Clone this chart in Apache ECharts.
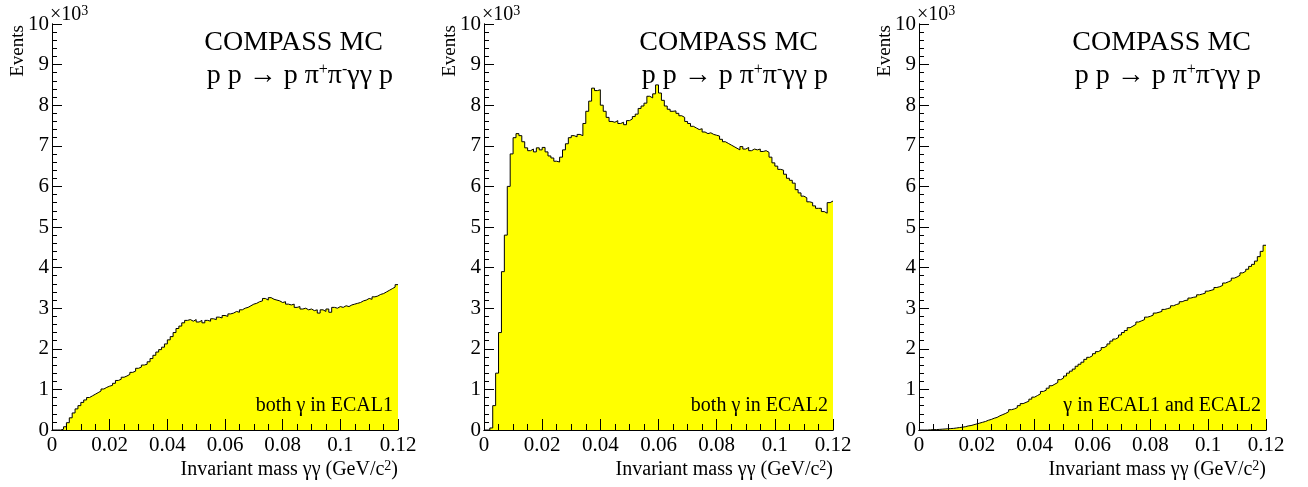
<!DOCTYPE html>
<html>
<head>
<meta charset="utf-8">
<script src="https://cdn.jsdelivr.net/npm/echarts@6/dist/echarts.min.js"></script>
<style>
html, body { margin: 0; padding: 0; background: #fff; }
#main { width: 1308px; height: 487px; }
</style>
</head>
<body>
<div id="main"></div>
<script>
// bin width of the histograms (GeV/c^2), bins start at 0
const binWidth = 0.001;
const xTicks = [0, 0.02, 0.04, 0.06, 0.08, 0.1, 0.12];
const yTicks = [0, 1, 2, 3, 4, 5, 6, 7, 8, 9, 10];

// events per bin, in units of 10^3
const ecal1 = [0,0,0,0.02,0.08,0.18,0.30,0.42,0.52,0.60,
	0.68,0.74,0.80,0.84,0.88,0.92,0.96,1.01,1.05,1.08,
	1.10,1.15,1.22,1.25,1.30,1.33,1.37,1.42,1.45,1.52,
	1.55,1.60,1.62,1.68,1.76,1.84,1.92,1.98,2.04,2.12,
	2.22,2.30,2.40,2.50,2.56,2.64,2.70,2.72,2.68,2.72,
	2.66,2.70,2.64,2.70,2.68,2.74,2.72,2.78,2.76,2.82,
	2.80,2.86,2.88,2.92,2.90,2.96,3.00,3.02,3.06,3.10,
	3.12,3.16,3.18,3.24,3.20,3.26,3.22,3.20,3.18,3.14,
	3.16,3.10,3.08,3.10,3.02,3.04,2.98,3.00,2.96,2.98,
	2.94,2.96,2.88,2.96,2.92,2.98,2.90,3.02,3.00,3.04,
	3.02,3.06,3.04,3.08,3.10,3.12,3.14,3.18,3.20,3.24,
	3.22,3.28,3.30,3.34,3.36,3.40,3.44,3.48,3.52,3.58];

const ecal2 = [0,0,0.05,0.6,1.4,2.4,3.9,4.8,6.0,6.8,
	7.20,7.30,7.25,7.10,6.95,6.88,6.92,6.85,6.95,6.90,
	6.96,6.85,6.75,6.70,6.62,6.60,6.72,6.90,7.05,7.20,
	7.25,7.22,7.28,7.25,7.55,7.85,8.10,8.42,8.36,8.38,
	8.00,7.85,7.70,7.60,7.58,7.62,7.55,7.58,7.52,7.62,
	7.66,7.72,7.78,7.92,7.98,8.05,8.22,8.18,8.28,8.50,
	8.30,8.12,7.98,7.90,7.85,7.86,7.80,7.74,7.70,7.60,
	7.55,7.48,7.44,7.40,7.42,7.34,7.30,7.32,7.28,7.26,
	7.24,7.16,7.10,7.06,7.02,6.98,6.94,6.90,6.98,6.92,
	6.96,6.88,6.92,6.90,6.92,6.86,6.88,6.84,6.72,6.58,
	6.50,6.42,6.40,6.30,6.20,6.15,6.08,5.92,5.84,5.76,
	5.72,5.62,5.60,5.52,5.46,5.46,5.38,5.34,5.60,5.64];

const ecal12 = [0,0,0,0.005,0.01,0.01,0.015,0.02,0.025,0.03,
	0.035,0.04,0.05,0.06,0.07,0.08,0.10,0.11,0.13,0.15,
	0.17,0.19,0.21,0.24,0.26,0.29,0.31,0.35,0.38,0.41,
	0.45,0.50,0.52,0.55,0.60,0.65,0.68,0.71,0.76,0.81,
	0.85,0.89,0.95,0.98,1.03,1.09,1.13,1.17,1.24,1.28,
	1.33,1.40,1.45,1.50,1.57,1.62,1.67,1.74,1.79,1.83,
	1.88,1.93,1.97,2.03,2.07,2.12,2.19,2.24,2.28,2.34,
	2.40,2.45,2.52,2.56,2.60,2.66,2.69,2.72,2.78,2.80,
	2.83,2.88,2.90,2.92,2.97,2.99,3.01,3.06,3.09,3.11,
	3.16,3.19,3.20,3.25,3.27,3.28,3.33,3.35,3.37,3.42,
	3.44,3.46,3.51,3.53,3.56,3.62,3.65,3.68,3.74,3.77,
	3.81,3.87,3.91,3.96,4.03,4.08,4.16,4.27,4.40,4.55];

const panelData = [ecal1, ecal2, ecal12];
const panelLabels = ['both γ in ECAL1', 'both γ in ECAL2', 'γ in ECAL1 and ECAL2'];

const font = "'Liberation Serif', 'DejaVu Serif', serif";
const chart = echarts.init(document.getElementById('main'));

const grids = [
	{ left: 52, top: 24, width: 346, height: 406 },
	{ left: 484, top: 24, width: 349, height: 406 },
	{ left: 919, top: 24, width: 347, height: 406 }
];

function toSteps(values) {
	let pts = values.map((v, i) => [+(i * binWidth).toFixed(4), v]);
	pts.push([xTicks[xTicks.length - 1], values[values.length - 1]]);
	return pts;
}

function fmtX(v) {
	return String(+v.toFixed(2));
}

let xAxes = [], yAxes = [], series = [], graphics = [];

grids.forEach((g, i) => {
	xAxes.push({
		gridIndex: i, type: 'value', position: 'bottom',
		min: xTicks[0], max: xTicks[xTicks.length - 1], interval: 0.02,
		axisLine: { lineStyle: { color: '#000', width: 1 } },
		axisTick: { inside: true, length: 11, lineStyle: { color: '#000' } },
		minorTick: { show: true, splitNumber: 4, length: 6, lineStyle: { color: '#000' } },
		axisLabel: { margin: 5, color: '#000', fontFamily: font, fontSize: 21, formatter: fmtX },
		splitLine: { show: false },
		z: 5
	});
	yAxes.push({
		gridIndex: i, type: 'value', position: 'left',
		min: yTicks[0], max: yTicks[yTicks.length - 1], interval: 1,
		axisLine: { show: true, lineStyle: { color: '#000', width: 1 } },
		axisTick: { show: true, inside: true, length: 10, lineStyle: { color: '#000' } },
		minorTick: { show: true, splitNumber: 5, length: 5, lineStyle: { color: '#000' } },
		axisLabel: { margin: 3, color: '#000', fontFamily: font, fontSize: 21 },
		splitLine: { show: false },
		z: 5
	});
	series.push({
		type: 'line',
		xAxisIndex: i,
		yAxisIndex: i,
		step: 'end',
		symbol: 'none',
		animation: false,
		lineStyle: { color: '#000', width: 1 },
		areaStyle: { color: '#ffff00', opacity: 1 },
		data: toSteps(panelData[i])
	});

	let right = g.left + g.width;
	graphics.push(
		{ type: 'text', x: g.left - 2, y: 15, style: { text: '×10{s|3}', font: '20px ' + font, fill: '#000', textAlign: 'left', textVerticalAlign: 'middle', rich: { s: { fontSize: 14, fontFamily: font, verticalAlign: 'top', padding: [0, 0, 8, 0] } } } },
		{ type: 'text', x: g.left - 34, y: 51, rotation: Math.PI / 2, style: { text: 'Events', font: '19px ' + font, fill: '#000', textAlign: 'center', textVerticalAlign: 'middle' } },
		{ type: 'text', x: right - 15, y: 43, style: { text: 'COMPASS MC', font: '28px ' + font, fill: '#000', textAlign: 'right', textVerticalAlign: 'middle' } },
		{ type: 'text', x: right - 5, y: 76, style: { text: 'p p → p π{s|+}π{s|-}γγ p', font: '28px ' + font, fill: '#000', textAlign: 'right', textVerticalAlign: 'middle', rich: { s: { fontSize: 16, fontFamily: font, verticalAlign: 'top', padding: [0, 0, 11, 0] } } } },
		{ type: 'text', x: right - 5, y: 406, z: 10, style: { text: panelLabels[i], font: '20px ' + font, fill: '#000', textAlign: 'right', textVerticalAlign: 'middle' } },
		{ type: 'text', x: right, y: 470, style: { text: 'Invariant mass γγ (GeV/c{s|2})', font: '20px ' + font, fill: '#000', textAlign: 'right', textVerticalAlign: 'middle', rich: { s: { fontSize: 14, fontFamily: font, verticalAlign: 'top', padding: [0, 0, 8, 0] } } } }
	);
});

// frame: top and right edges of each pad
grids.forEach((g, i) => {
	xAxes.push({
		gridIndex: i, type: 'value', position: 'top', min: 0, max: 0.12,
		axisLine: { lineStyle: { color: '#000', width: 1 } },
		axisTick: { show: false }, axisLabel: { show: false }, splitLine: { show: false }, z: 5
	});
	yAxes.push({
		gridIndex: i, type: 'value', position: 'right', min: 0, max: 10,
		axisLine: { show: true, lineStyle: { color: '#000', width: 1 } },
		axisTick: { show: false }, axisLabel: { show: false }, splitLine: { show: false }, z: 5
	});
});

chart.setOption({
	animation: false,
	backgroundColor: '#fff',
	grid: grids,
	xAxis: xAxes,
	yAxis: yAxes,
	series: series,
	graphic: graphics
});
</script>
</body>
</html>
